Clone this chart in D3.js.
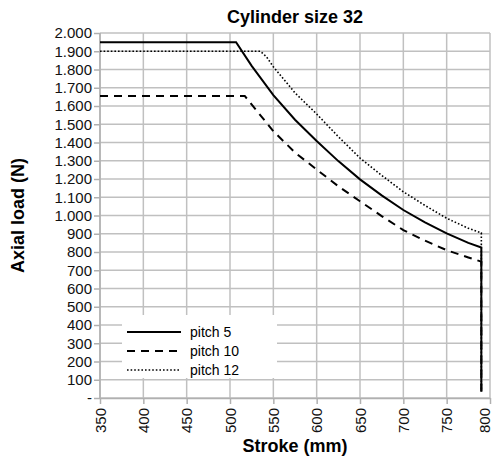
<!DOCTYPE html>
<html>
<head>
    <meta charset="utf-8">
    <script src="https://cdnjs.cloudflare.com/ajax/libs/d3/7.8.5/d3.min.js"></script>
    <style>
        body { margin: 0; background: #fff; }
        svg { font-family: "Liberation Sans", Arial, sans-serif; }
        .grid line { stroke: #c0c0c0; stroke-width: 1.5; }
        .axis path, .axis line { stroke: #b0b0b0; stroke-width: 1.5; }
        .axis text { fill: #111; font-size: 15px; }
        .title, .axis-label { font-weight: bold; font-size: 18px; fill: #000; }
        .series { fill: none; stroke: #000; }
    </style>
</head>
<body>
<div id="chart"></div>
<script>
    // stroke in mm, axial load in N
    const xTicks = [350, 400, 450, 500, 550, 600, 650, 700, 750, 800];
    const yTicks = d3.range(0, 2001, 100);

    const pitch5 = [
        [350, 1950], [507, 1950], [525, 1820], [550, 1660], [575, 1525], [600, 1408],
        [625, 1298], [650, 1198], [675, 1110], [700, 1030], [725, 962], [750, 902],
        [775, 850], [790, 825], [790, 35]
    ];
    const pitch10 = [
        [350, 1655], [517, 1655], [550, 1462], [575, 1345], [600, 1252], [625, 1160],
        [650, 1078], [675, 997], [700, 920], [725, 862], [750, 810], [775, 770],
        [790, 747], [790, 35]
    ];
    const pitch12 = [
        [350, 1900], [535, 1900], [542, 1870], [550, 1815], [575, 1672], [600, 1556],
        [625, 1432], [650, 1315], [675, 1220], [700, 1130], [725, 1055], [750, 985],
        [775, 930], [790, 905], [790, 35]
    ];

    const series = [
        { name: 'pitch 5', values: pitch5, width: 2, dash: null },
        { name: 'pitch 10', values: pitch10, width: 2, dash: '8,6' },
        { name: 'pitch 12', values: pitch12, width: 1.6, dash: '1.6,2' }
    ];

    const width = 493, height = 461;
    const margin = { top: 33, right: 3, bottom: 63, left: 100 };

    const svg = d3.select('#chart').append('svg')
        .attr('width', width)
        .attr('height', height);

    const x = d3.scaleLinear().domain([350, 800]).range([margin.left, width - margin.right]);
    const y = d3.scaleLinear().domain([0, 2000]).range([height - margin.bottom, margin.top]);

    const fmtY = d => d === 0 ? '-' : d3.format(',')(d).replace(/,/g, '.');

    // grid
    const grid = svg.append('g').attr('class', 'grid');
    grid.selectAll('.gy').data(yTicks).enter().append('line')
        .attr('x1', x(350)).attr('x2', x(800))
        .attr('y1', d => y(d)).attr('y2', d => y(d));
    grid.selectAll('.gx').data(xTicks).enter().append('line')
        .attr('x1', d => x(d)).attr('x2', d => x(d))
        .attr('y1', y(0)).attr('y2', y(2000));

    // axes
    svg.append('g').attr('class', 'axis')
        .attr('transform', `translate(${x(350)},0)`)
        .call(d3.axisLeft(y).tickValues(yTicks).tickFormat(fmtY).tickSize(6).tickPadding(2))
        .call(g => g.select('.domain').remove());

    svg.append('g').attr('class', 'axis')
        .attr('transform', `translate(0,${y(0)})`)
        .call(d3.axisBottom(x).tickValues(xTicks).tickSize(6).tickSizeOuter(0))
        .call(g => g.selectAll('text')
            .attr('transform', 'rotate(-90)')
            .attr('text-anchor', 'end')
            .attr('x', -10)
            .attr('y', d => d === 800 ? -6 : 0)
            .attr('dy', '0.35em'));

    svg.append('line')
        .attr('x1', x(350)).attr('x2', x(350))
        .attr('y1', y(0)).attr('y2', y(2000))
        .style('stroke', '#b0b0b0').style('stroke-width', 1.5);

    // legend box (drawn before the lines so the curves stay on top)
    const legend = svg.append('g').attr('transform', 'translate(122,315)');
    legend.append('rect').attr('width', 155).attr('height', 63).attr('fill', '#fff');

    // series
    const line = d3.line().x(d => x(d[0])).y(d => y(d[1]));
    svg.selectAll('.series').data(series.slice().reverse()).enter().append('path')
        .attr('class', 'series')
        .attr('d', d => line(d.values))
        .style('stroke-width', d => d.width)
        .style('stroke-dasharray', d => d.dash);

    const items = legend.selectAll('.item').data(series).enter().append('g')
        .attr('transform', (d, i) => `translate(0,${17 + i * 19})`);
    items.append('line')
        .attr('x1', 5).attr('x2', 59)
        .style('stroke', '#000')
        .style('stroke-width', d => d.width)
        .style('stroke-dasharray', d => d.dash);
    items.append('text')
        .attr('x', 68).attr('dy', '0.35em')
        .style('font-size', '14px')
        .text(d => d.name);

    // titles
    svg.append('text').attr('class', 'title')
        .attr('x', (x(350) + x(800)) / 2).attr('y', 23)
        .attr('text-anchor', 'middle')
        .text('Cylinder size 32');

    svg.append('text').attr('class', 'axis-label')
        .attr('x', (x(350) + x(800)) / 2).attr('y', 452)
        .attr('text-anchor', 'middle')
        .text('Stroke (mm)');

    svg.append('text').attr('class', 'axis-label')
        .attr('transform', `translate(24,${(y(0) + y(2000)) / 2}) rotate(-90)`)
        .attr('text-anchor', 'middle')
        .text('Axial load (N)');
</script>
</body>
</html>
